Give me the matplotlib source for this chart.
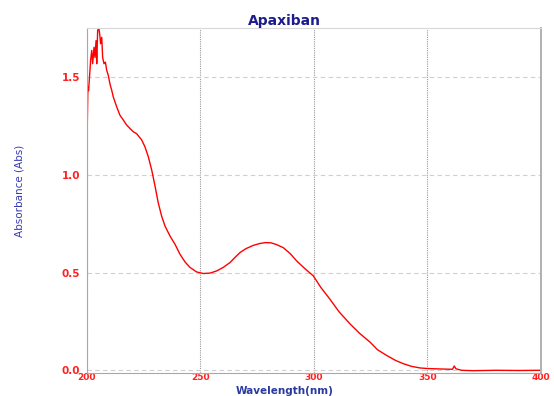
import matplotlib
matplotlib.use("Agg")
import matplotlib.pyplot as plt

# absorbance spectrum, values (nm, Abs)
wavelength = [
    200.0, 200.4, 200.7, 201.0, 201.6, 202.1, 202.5, 203.1, 203.5, 204.0,
    204.3, 204.7, 205.2, 205.6, 206.0, 206.5, 206.9, 207.5, 208.1, 208.7,
    209.4, 210.1, 210.9, 211.6, 213.1, 214.5, 216.0, 217.5, 218.9, 220.4,
    221.9, 224.1, 225.5, 227.0, 228.5, 230.0, 231.4, 232.9, 234.4, 236.6,
    238.8, 241.0, 243.2, 245.4, 248.3, 251.2, 254.2, 257.1, 260.0, 263.0,
    265.0, 267.4, 270.0, 273.3, 276.0, 278.4, 281.0, 283.5, 286.5, 289.5,
    292.4, 296.0, 299.7, 303.0, 307.0, 311.0, 315.9, 320.0, 324.7, 328.0,
    332.0, 336.0, 339.3, 343.0, 346.7, 350.0, 355.0, 361.0, 361.8, 362.5,
    365.0, 370.0, 380.0, 390.0, 400.0,
]
absorbance = [
    1.16, 1.45, 1.43, 1.48, 1.585, 1.636, 1.568, 1.652, 1.60, 1.686,
    1.568, 1.737, 1.754, 1.72, 1.67, 1.703, 1.60, 1.568, 1.576, 1.534,
    1.508, 1.466, 1.432, 1.398, 1.347, 1.305, 1.28, 1.254, 1.237, 1.22,
    1.21, 1.178, 1.144, 1.093, 1.025, 0.941, 0.856, 0.788, 0.737, 0.686,
    0.644, 0.593, 0.554, 0.526, 0.503, 0.495, 0.497, 0.508, 0.526, 0.551,
    0.575, 0.602, 0.622, 0.639, 0.648, 0.653, 0.652, 0.643, 0.627, 0.597,
    0.559, 0.52, 0.483, 0.424, 0.364, 0.30, 0.237, 0.19, 0.144, 0.105,
    0.076, 0.05, 0.034, 0.02, 0.012, 0.009, 0.007, 0.005, 0.022, 0.008,
    0.0, -0.002, 0.0, -0.001, 0.0,
]
x_ticks = [200, 250, 300, 350, 400]
y_ticks = [0.0, 0.5, 1.0, 1.5]

fig = plt.figure(figsize=(5.54, 3.96), dpi=100)
ax = fig.add_axes([0.157, 0.059, 0.8195, 0.870])

ax.plot(wavelength, absorbance, color="#ff0000", linewidth=1.0)

ax.set_xlim(200, 400)
ax.set_ylim(-0.012, 1.75)
ax.set_xticks(x_ticks)
ax.set_yticks(y_ticks)
ax.set_xticklabels([str(t) for t in x_ticks])
ax.set_yticklabels([f"{t:.1f}" for t in y_ticks])

# grid: dotted verticals, dashed horizontals
ax.xaxis.grid(True, linestyle=(0, (1, 1)), color="#9a9a9a", linewidth=0.8)
ax.yaxis.grid(True, linestyle=(0, (4, 3)), color="#cfcfcf", linewidth=0.8)
ax.set_axisbelow(True)

for side in ("left", "bottom"):
    ax.spines[side].set_color("#a8a8a8")
ax.spines["top"].set_color("#d8d8d8")
ax.spines["right"].set_color("#b0b0b0")
ax.spines["right"].set_linewidth(1.4)

ax.tick_params(axis="y", length=0, labelsize=7.5, labelcolor="#ff2020", pad=5)
ax.tick_params(axis="x", length=0, labelsize=6.5, labelcolor="#ff2020", pad=0.5)
for lab in ax.get_xticklabels() + ax.get_yticklabels():
    lab.set_fontweight("bold")

fig.text(0.513, 0.948, "Apaxiban", ha="center", va="center",
         fontsize=10, fontweight="bold", color="#1c1c8c")
fig.text(0.514, 0.0, "Wavelength(nm)", ha="center", va="bottom",
         fontsize=7.5, fontweight="bold", color="#2a3aa0")
fig.text(0.036, 0.517, "Absorbance (Abs)", ha="center", va="center",
         rotation=90, fontsize=7.5, color="#3a3ab0",
         family=["Liberation Sans Narrow", "DejaVu Sans"])

fig.savefig("out.png", dpi=100)
